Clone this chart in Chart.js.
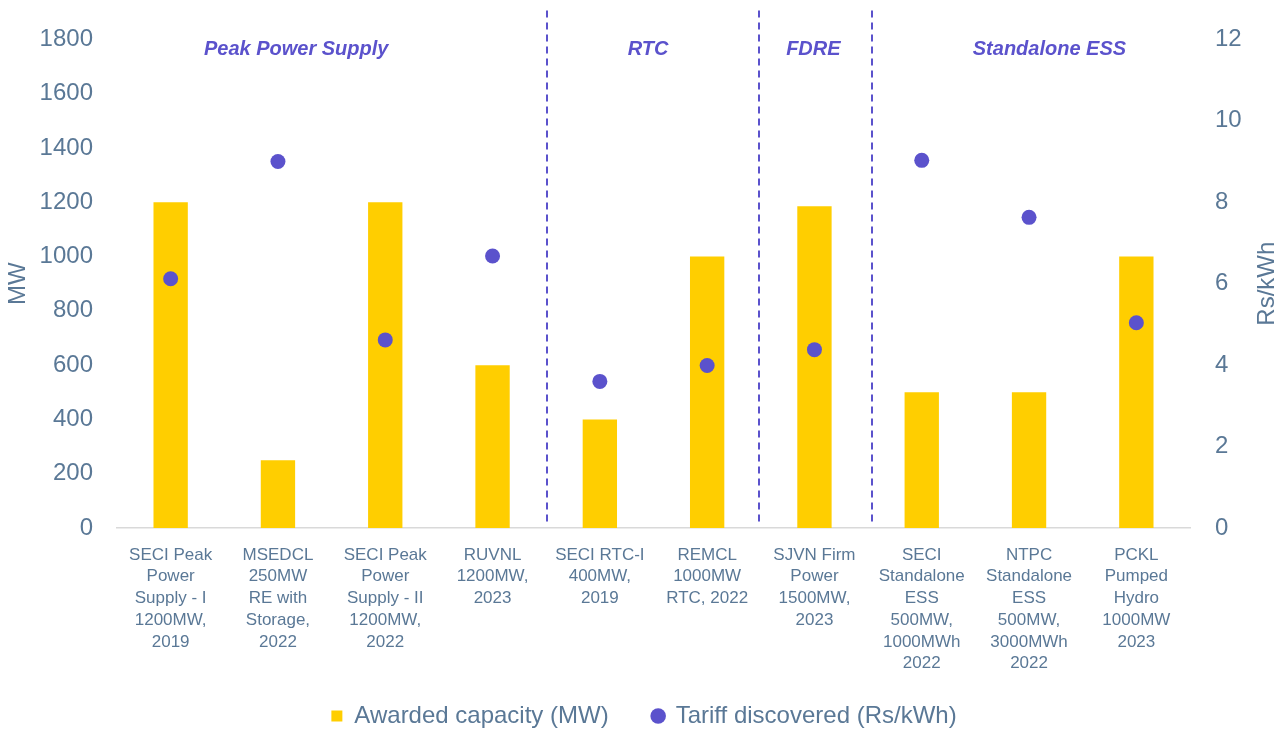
<!DOCTYPE html>
<html>
<head>
<meta charset="utf-8">
<script src="https://cdn.jsdelivr.net/npm/chart.js@4"></script>
<style>
  html, body { margin: 0; padding: 0; background: #ffffff; }
  #wrap { width: 1278px; height: 730px; }
</style>
</head>
<body>
<div id="wrap"><canvas id="c" width="1278" height="730"></canvas></div>
<script>
// ---- data ----
const categories = [
  ["SECI Peak", "Power", "Supply - I", "1200MW,", "2019"],
  ["MSEDCL", "250MW", "RE with", "Storage,", "2022"],
  ["SECI Peak", "Power", "Supply - II", "1200MW,", "2022"],
  ["RUVNL", "1200MW,", "2023"],
  ["SECI RTC-I", "400MW,", "2019"],
  ["REMCL", "1000MW", "RTC, 2022"],
  ["SJVN Firm", "Power", "1500MW,", "2023"],
  ["SECI", "Standalone", "ESS", "500MW,", "1000MWh", "2022"],
  ["NTPC", "Standalone", "ESS", "500MW,", "3000MWh", "2022"],
  ["PCKL", "Pumped", "Hydro", "1000MW", "2023"]
];
const awardedCapacity = [1200, 250, 1200, 600, 400, 1000, 1185, 500, 500, 1000];
const tariffDiscovered = [6.12, 9.0, 4.62, 6.68, 3.6, 3.99, 4.38, 9.03, 7.63, 5.04];
const leftTicks = [0, 200, 400, 600, 800, 1000, 1200, 1400, 1600, 1800];
const rightTicks = [0, 2, 4, 6, 8, 10, 12];
const seriesNames = ["Awarded capacity (MW)", "Tariff discovered (Rs/kWh)"];
const sectionNames = ["Peak Power Supply", "RTC", "FDRE", "Standalone ESS"];

// ---- annotation placement (category-index units) ----
const sectionPositions = [1.17, 4.45, 5.99, 8.19];
const dividerPositions = [3.51, 5.48, 6.54];

const TEXT = '#5A7896';
const PURPLE = '#5B52CC';
const YELLOW = '#FFCE00';
const FONT = "'Liberation Sans', Arial, sans-serif";
const LEGEND_PAD = 44;
const LEGEND_CENTER_Y = 716;

const annotations = {
  id: 'annotations',
  afterLayout(chart) {
    const lg = chart.legend;
    if (!lg) return;
    const h = lg.bottom - lg.top;
    lg.top = LEGEND_CENTER_Y - 12 - LEGEND_PAD;
    lg.bottom = lg.top + h;
    lg.left += 5;
    lg.right += 5;
  },
  afterDraw(chart) {
    const ctx = chart.ctx;
    const x = chart.scales.x;
    const area = chart.chartArea;
    ctx.save();
    // dashed dividers
    ctx.strokeStyle = PURPLE;
    ctx.lineWidth = 2;
    ctx.setLineDash([7, 5]);
    dividerPositions.forEach(p => {
      const px = Math.round(x.getPixelForValue(p));
      ctx.beginPath();
      ctx.moveTo(px, area.top - 29);
      ctx.lineTo(px, area.bottom - 4);
      ctx.stroke();
    });
    ctx.setLineDash([]);
    // section labels
    ctx.fillStyle = PURPLE;
    ctx.font = "italic bold 20px " + FONT;
    ctx.textAlign = 'center';
    ctx.textBaseline = 'middle';
    sectionNames.forEach((name, i) => {
      ctx.fillText(name, x.getPixelForValue(sectionPositions[i]), area.top + 10);
    });
    // right axis title (reads bottom to top)
    ctx.fillStyle = TEXT;
    ctx.font = "24px " + FONT;
    ctx.translate(1267, (area.top + area.bottom) / 2);
    ctx.rotate(-Math.PI / 2);
    ctx.fillText("Rs/kWh", 0, 0);
    ctx.restore();
  }
};

new Chart(document.getElementById('c'), {
  data: {
    labels: categories,
    datasets: [
      {
        type: 'bar',
        label: seriesNames[0],
        data: awardedCapacity,
        backgroundColor: YELLOW,
        borderWidth: 0,
        yAxisID: 'y',
        order: 1,
        categoryPercentage: 1.0,
        barPercentage: 0.32,
        pointStyle: 'rect'
      },
      {
        type: 'line',
        label: seriesNames[1],
        data: tariffDiscovered,
        showLine: false,
        yAxisID: 'y1',
        order: 0,
        pointRadius: 7.5,
        pointHoverRadius: 7.5,
        pointBackgroundColor: PURPLE,
        pointBorderWidth: 0,
        backgroundColor: PURPLE,
        borderColor: PURPLE,
        pointStyle: 'circle'
      }
    ]
  },
  options: {
    responsive: false,
    animation: false,
    devicePixelRatio: 1,
    layout: { padding: { top: 36, left: 0, right: 0, bottom: -26 } },
    plugins: {
      tooltip: { enabled: false },
      legend: {
        position: 'bottom',
        labels: {
          usePointStyle: true,
          boxWidth: 11,
          boxHeight: 11,
          padding: LEGEND_PAD,
          color: TEXT,
          font: { family: FONT, size: 24 },
          sort: (a, b) => a.datasetIndex - b.datasetIndex
        }
      }
    },
    scales: {
      x: {
        offset: true,
        grid: { display: false, drawTicks: false },
        border: { display: true, color: '#D9D9D9', width: 1.5 },
        ticks: {
          color: TEXT,
          font: { family: FONT, size: 17, lineHeight: 1.28 },
          maxRotation: 0,
          autoSkip: false,
          padding: 16
        },
        afterFit(s) { s.height = 150; }
      },
      y: {
        position: 'left',
        min: 0,
        max: 1800,
        afterBuildTicks(s) { s.ticks = leftTicks.map(v => ({ value: v })); },
        grid: { display: false, drawTicks: false },
        border: { display: false },
        ticks: {
          color: TEXT,
          font: { family: FONT, size: 24 },
          padding: 24,
          callback: v => String(v)
        },
        title: {
          display: true,
          text: 'MW',
          color: TEXT,
          font: { family: FONT, size: 24 },
          padding: { top: 4, bottom: 0 }
        },
        afterFit(s) { s.width = 117; }
      },
      y1: {
        position: 'right',
        min: 0,
        max: 12,
        afterBuildTicks(s) { s.ticks = rightTicks.map(v => ({ value: v })); },
        grid: { display: false, drawTicks: false },
        border: { display: false },
        ticks: {
          color: TEXT,
          font: { family: FONT, size: 24 },
          padding: 25,
          callback: v => String(v)
        },
        afterFit(s) { s.width = 88; }
      }
    }
  },
  plugins: [annotations]
});
</script>
</body>
</html>
